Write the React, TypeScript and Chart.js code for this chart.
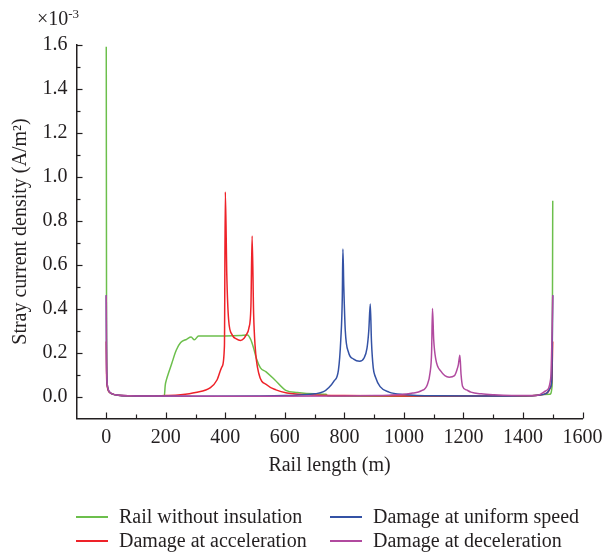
import React, { useEffect, useRef } from "react";
import { Chart, registerables } from "chart.js";

Chart.register(...registerables);

// ---- data (values in units of 10^-3 A/m^2) ----
const greenX = [0, 1, 3, 10, 30, 80, 150, 195, 198, 203, 210, 220, 235, 250, 270, 285, 296, 310, 350, 400, 450, 475, 485, 495, 505, 518, 537, 565, 603, 642, 700, 738, 745, 800, 1000, 1200, 1400, 1490, 1498, 1500];
const greenY = [1.59, 0.3, 0.06, 0.02, 0.008, 0.002, 0.001, 0.001, 0.05, 0.08, 0.11, 0.15, 0.21, 0.245, 0.26, 0.27, 0.258, 0.275, 0.275, 0.275, 0.277, 0.28, 0.26, 0.22, 0.17, 0.13, 0.112, 0.077, 0.028, 0.018, 0.012, 0.01, 0.002, 0.001, 0.001, 0.001, 0.001, 0.01, 0.05, 0.89];

const redX = [0, 1, 3, 6, 10, 20, 40, 80, 150, 200, 250, 300, 350, 372, 389, 397, 400, 405, 411, 423, 437, 451, 463, 470, 479, 486, 490, 495, 500, 512, 540, 570, 607, 700, 800, 1000, 1200, 1400, 1450, 1480, 1492, 1497, 1500];
const redY = [0.25, 0.1, 0.05, 0.03, 0.02, 0.012, 0.006, 0.003, 0.002, 0.004, 0.008, 0.018, 0.04, 0.075, 0.136, 0.23, 0.93, 0.55, 0.35, 0.28, 0.262, 0.255, 0.265, 0.28, 0.31, 0.41, 0.73, 0.38, 0.23, 0.107, 0.052, 0.03, 0.016, 0.007, 0.004, 0.002, 0.002, 0.003, 0.006, 0.015, 0.04, 0.08, 0.25];

const blueX = [0, 1, 3, 6, 10, 20, 40, 80, 150, 300, 500, 600, 650, 700, 730, 747, 765, 780, 788, 793, 795, 798, 803, 814, 831, 851, 866, 876, 882, 887, 891, 897, 904, 920, 950, 1000, 1100, 1300, 1400, 1450, 1480, 1492, 1497, 1500];
const blueY = [0.46, 0.15, 0.06, 0.035, 0.022, 0.012, 0.006, 0.003, 0.002, 0.001, 0.002, 0.004, 0.007, 0.012, 0.022, 0.04, 0.07, 0.12, 0.26, 0.45, 0.67, 0.5, 0.3, 0.2, 0.17, 0.16, 0.175, 0.22, 0.3, 0.42, 0.25, 0.13, 0.09, 0.045, 0.02, 0.009, 0.003, 0.002, 0.003, 0.006, 0.015, 0.04, 0.08, 0.46];

const purpleX = [0, 1, 3, 6, 10, 20, 40, 80, 150, 400, 800, 900, 950, 1000, 1030, 1057, 1079, 1088, 1093, 1096, 1100, 1107, 1124, 1152, 1170, 1178, 1183, 1188, 1192, 1197, 1210, 1225, 1260, 1303, 1414, 1450, 1476, 1493, 1498, 1500];
const purpleY = [0.46, 0.15, 0.06, 0.035, 0.022, 0.012, 0.006, 0.003, 0.002, 0.001, 0.002, 0.004, 0.006, 0.01, 0.016, 0.025, 0.055, 0.11, 0.2, 0.4, 0.26, 0.17, 0.115, 0.088, 0.095, 0.12, 0.145, 0.187, 0.1, 0.047, 0.03, 0.02, 0.012, 0.008, 0.004, 0.006, 0.025, 0.08, 0.3, 0.46];

const seriesNames = ["Rail without insulation", "Damage at acceleration", "Damage at uniform speed", "Damage at deceleration"];
const xTicks = [0, 200, 400, 600, 800, 1000, 1200, 1400, 1600];
const yTicks = [0, 0.2, 0.4, 0.6, 0.8, 1.0, 1.2, 1.4, 1.6];

const COLORS = ["#6cbf4c", "#ee2229", "#3452a5", "#b14a9f"];
const AXIS = "#231f20";
const FONT = "'Liberation Serif', 'DejaVu Serif', serif";
const FS = 20;

const pts = (xs: number[], ys: number[]) => xs.map((x, i) => ({ x, y: ys[i] }));

const tickPlugin = {
  id: "inTicks",
  afterDraw(chart: any) {
    const { ctx, scales } = chart;
    const x = scales.x, y = scales.y;
    ctx.save();
    ctx.strokeStyle = AXIS;
    ctx.lineWidth = 1.2;
    const bottom = y.getPixelForValue(y.min);
    const left = x.getPixelForValue(x.min);
    const xs: [number, number][] = [];
    xTicks.forEach((v) => { xs.push([v, 6]); if (v - 100 > x.min) xs.push([v - 100, 4]); });
    xs.forEach(([v, len]) => {
      const px = Math.round(x.getPixelForValue(v)) + 0.5;
      ctx.beginPath(); ctx.moveTo(px, bottom); ctx.lineTo(px, bottom - len); ctx.stroke();
    });
    const ys: [number, number][] = [];
    yTicks.forEach((v) => { ys.push([v, 6]); if (v - 0.1 > y.min + 1e-9) ys.push([v - 0.1, 4]); });
    ys.forEach(([v, len]) => {
      const py = Math.round(y.getPixelForValue(v)) + 0.5;
      ctx.beginPath(); ctx.moveTo(left, py); ctx.lineTo(left + len, py); ctx.stroke();
    });
    ctx.restore();
  },
};

export default function App() {
  const ref = useRef<HTMLCanvasElement | null>(null);
  useEffect(() => {
    document.body.style.margin = "0";
    const c = ref.current!;
    const data = [pts(greenX, greenY), pts(redX, redY), pts(blueX, blueY), pts(purpleX, purpleY)];
    const order = [3, 2, 1, 0];
    const chart = new Chart(c, {
      type: "line",
      data: {
        datasets: data.map((d, i) => ({
          label: seriesNames[i],
          data: d,
          borderColor: COLORS[i],
          backgroundColor: COLORS[i],
          borderWidth: 1.5,
          pointRadius: 0,
          fill: false,
          cubicInterpolationMode: "monotone" as const,
          order: order[i],
        })),
      },
      options: {
        animation: false,
        responsive: false,
        events: [],
        layout: { padding: { top: 44.5, right: 30.5, bottom: 74, left: 6 } },
        plugins: { legend: { display: false }, tooltip: { enabled: false } },
        scales: {
          x: {
            type: "linear",
            min: -100,
            max: 1600,
            afterBuildTicks: (s: any) => { s.ticks = xTicks.map((v) => ({ value: v })); },
            afterFit: (s: any) => { s.height = 59.5; },
            grid: { drawOnChartArea: false, drawTicks: false },
            border: { display: true, color: AXIS, width: 1.5 },
            ticks: { color: AXIS, font: { family: FONT, size: FS }, padding: 7, maxRotation: 0, autoSkip: false, callback: (v: any) => String(v) },
            title: { display: true, text: "Rail length (m)", color: AXIS, font: { family: FONT, size: FS }, padding: { top: 4, bottom: 0 } },
          },
          y: {
            type: "linear",
            min: -0.1,
            max: 1.6,
            afterBuildTicks: (s: any) => { s.ticks = yTicks.map((v) => ({ value: v })); },
            afterFit: (s: any) => { s.width = 70.5; },
            grid: { drawOnChartArea: false, drawTicks: false },
            border: { display: true, color: AXIS, width: 1.5 },
            ticks: { color: AXIS, font: { family: FONT, size: FS }, padding: 9, callback: (v: any) => Number(v).toFixed(1) },
            title: { display: true, text: "Stray current density (A/m²)", color: AXIS, font: { family: FONT, size: FS }, padding: { top: 3, bottom: 4 } },
          },
        },
      },
      plugins: [tickPlugin],
    });
    return () => chart.destroy();
  }, []);

  const legendPos = [
    { left: 76, top: 516, textLeft: 119 },
    { left: 76, top: 540, textLeft: 119 },
    { left: 330, top: 516, textLeft: 373 },
    { left: 330, top: 540, textLeft: 373 },
  ];

  return (
    <div style={{ position: "relative", width: 613, height: 552, fontFamily: FONT, color: AXIS }}>
      <canvas ref={ref} width={613} height={552} style={{ display: "block" }} />
      <div style={{ position: "absolute", left: 37, top: 6, fontSize: FS, lineHeight: "24px", whiteSpace: "nowrap" }}>
        ×10<sup style={{ fontSize: 13, verticalAlign: "top", position: "relative", top: -4 }}>-3</sup>
      </div>
      {seriesNames.map((n, i) => (
        <React.Fragment key={n}>
          <div style={{ position: "absolute", left: legendPos[i].left, top: legendPos[i].top, width: 32, height: 1.5, background: COLORS[i] }} />
          <div style={{ position: "absolute", left: legendPos[i].textLeft, top: legendPos[i].top - 12, fontSize: FS, lineHeight: "24px", whiteSpace: "nowrap" }}>{n}</div>
        </React.Fragment>
      ))}
    </div>
  );
}
